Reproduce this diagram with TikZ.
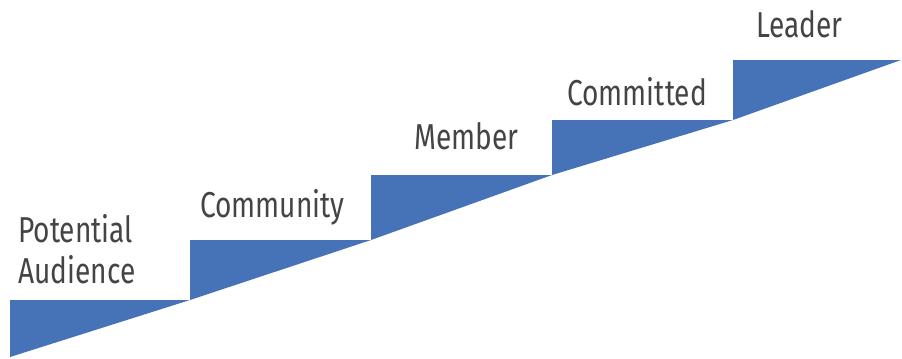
\documentclass[tikz,border=0pt]{standalone}
\usepackage{fontspec}
\setmainfont{Fira Sans}[FakeStretch=0.78]
\definecolor{stepblue}{HTML}{4672B8}
\definecolor{labelgray}{HTML}{444444}
\tikzset{
  stair/.style={fill=stepblue,draw=none},
  steplabel/.style={text=labelgray,font=\fontsize{27}{30.75}\selectfont,
    anchor=base west,inner sep=0pt,align=left},
}

\begin{document}
\begin{tikzpicture}[x=0.75pt,y=-0.75pt]
  \useasboundingbox (0,0) rectangle (902,358);
  % points on the slope
  \coordinate (s0) at (10,357);
  \coordinate (s1) at (190,300);
  \coordinate (s2) at (371,240);
  \coordinate (s3) at (552,175);
  \coordinate (s4) at (733,120);
  \coordinate (s5) at (901,60);
  \foreach \a/\b in {s0/s1,s1/s2,s2/s3,s3/s4,s4/s5}
    \fill[stair] (\a |- \b) -- (\b) -- (\a) -- cycle;
  % labels
  \node[steplabel] (audience) at (18,283) {Potential\\Audience};
  \node[steplabel] (community) at (200,217) {Community};
  \node[steplabel] (member) at (414,149) {Member};
  \node[steplabel] (committed) at (567,105) {Committed};
  \node[steplabel] (leader) at (756,37) {Leader};
\end{tikzpicture}
\end{document}
